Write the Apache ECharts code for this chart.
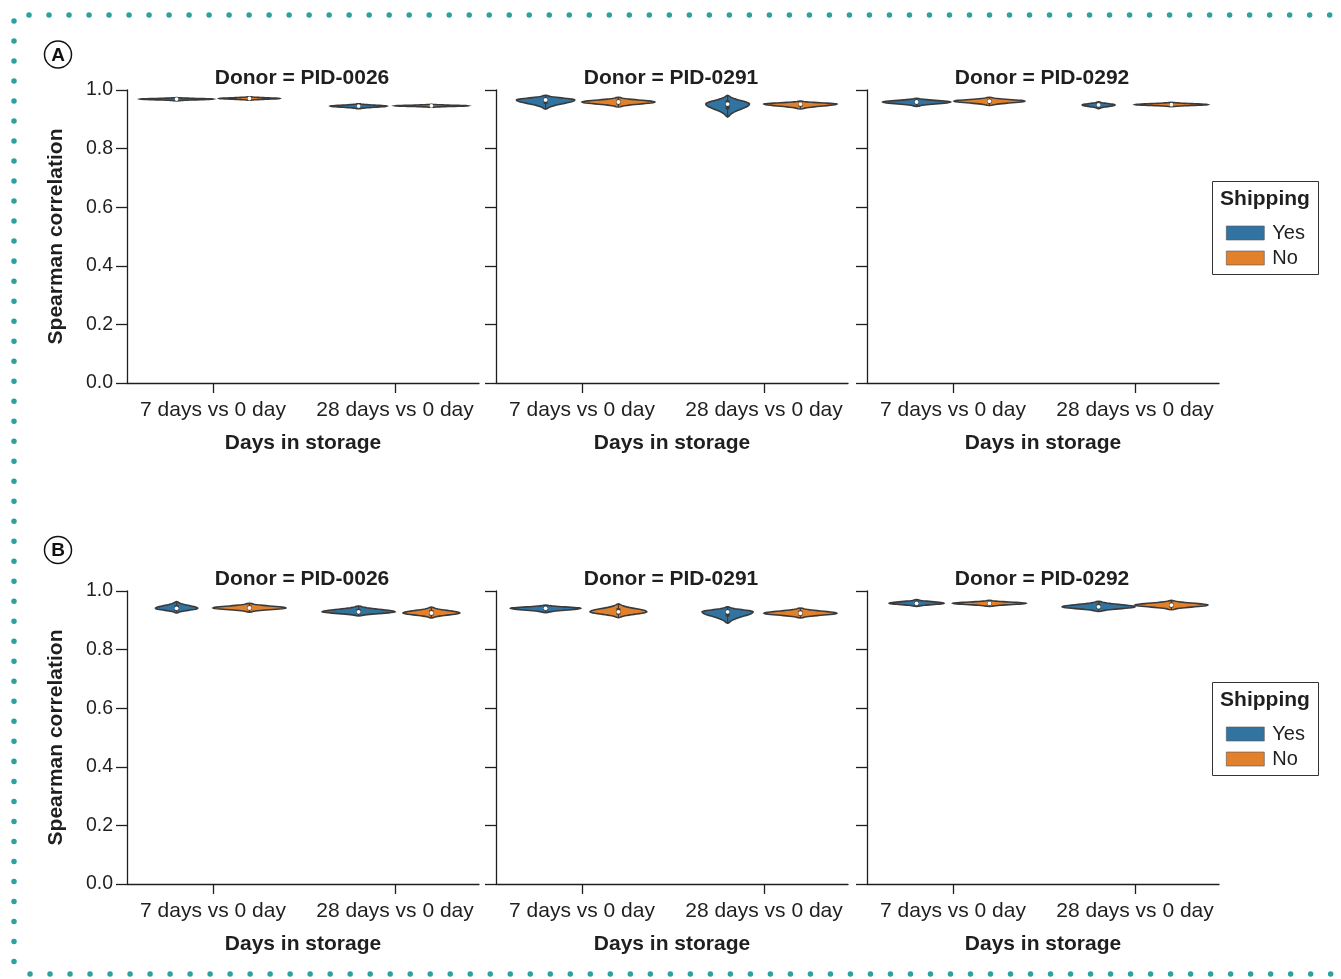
<!DOCTYPE html>
<html>
<head>
<meta charset="utf-8">
<script src="https://cdn.jsdelivr.net/npm/echarts@6/dist/echarts.min.js"></script>
<style>
  html, body { margin: 0; padding: 0; background: #fff; }
  #chart { width: 1341px; height: 979px; }
</style>
</head>
<body>
<div id="chart"></div>
<script>
// ---------------- DATA ----------------
const categories = ['7 days vs 0 day', '28 days vs 0 day'];
const donors = ['PID-0026', 'PID-0291', 'PID-0292'];
const hues = ['Yes', 'No'];
const yTicks = [0, 0.2, 0.4, 0.6, 0.8, 1.0];
const panelLetters = ['A', 'B'];

// Per donor, violins in order: [7d Yes, 7d No, 28d Yes, 28d No]
const A_median = [[0.969, 0.971, 0.945, 0.946], [0.966, 0.959, 0.952, 0.952], [0.959, 0.962, 0.949, 0.950]];
const A_low    = [[0.963, 0.965, 0.936, 0.941], [0.935, 0.942, 0.908, 0.935], [0.944, 0.947, 0.936, 0.943]];
const A_high   = [[0.974, 0.977, 0.953, 0.951], [0.982, 0.975, 0.982, 0.962], [0.972, 0.975, 0.960, 0.958]];
const A_width  = [[1.00, 0.82, 0.78, 1.00], [0.80, 1.00, 0.60, 1.00], [0.93, 0.97, 0.45, 1.00]];

const B_median = [[0.941, 0.942, 0.929, 0.925], [0.941, 0.929, 0.929, 0.924], [0.958, 0.958, 0.946, 0.952]];
const B_low    = [[0.925, 0.928, 0.915, 0.908], [0.926, 0.909, 0.890, 0.908], [0.947, 0.947, 0.930, 0.936]];
const B_high   = [[0.964, 0.958, 0.949, 0.945], [0.952, 0.956, 0.946, 0.942], [0.971, 0.968, 0.965, 0.968]];
const B_width  = [[0.58, 1.00, 1.00, 0.78], [0.96, 0.78, 0.70, 1.00], [0.75, 1.00, 1.00, 1.00]];

const rows = [
  { median: A_median, low: A_low, high: A_high, width: A_width },
  { median: B_median, low: B_low, high: B_high, width: B_width }
];

// ---------------- STYLE / LAYOUT ----------------
const FONT = '"Liberation Sans", Arial, Helvetica, sans-serif';
const TEXT = '#1f1f1f';
const hueColors = { Yes: '#3274a1', No: '#e1812c' };
const EDGE = '#3a3a3a';
const gridLefts = [127, 496, 867];
const gridTops = [90, 591];
const GW = 352, GH = 293;
const X_MIN = -86 / 182, X_MAX = 266 / 182;
const DODGE = 0.2, HALF = 0.2;

function renderViolin(params, api) {
  const xc = api.value(0), med = api.value(1), lo = api.value(2), hi = api.value(3);
  const w = api.value(4) * HALF;
  const color = api.visual('color');
  const sigLo = (med - lo) / 2.5, sigHi = (hi - med) / 2.5;
  const steps = 16;
  const vals = [];
  for (let i = 0; i <= steps; i++) vals.push(lo + (med - lo) * i / steps);
  for (let i = 1; i <= steps; i++) vals.push(med + (hi - med) * i / steps);
  const right = [], left = [];
  vals.forEach((v, i) => {
    const s = v < med ? sigLo : sigHi;
    const z = s > 0 ? (v - med) / s : 0;
    let hw = w * Math.exp(-0.5 * z * z);
    if (i === 0 || i === vals.length - 1) hw = 0;
    right.push(api.coord([xc + hw, v]));
    left.unshift(api.coord([xc - hw, v]));
  });
  const pts = right.concat(left);
  const q1 = med - (med - lo) * 0.35, q3 = med + (hi - med) * 0.35;
  const pLo = api.coord([xc, lo]), pHi = api.coord([xc, hi]);
  const p1 = api.coord([xc, q1]), p3 = api.coord([xc, q3]);
  const pm = api.coord([xc, med]);
  return {
    type: 'group',
    children: [
      { type: 'polygon', shape: { points: pts }, style: { fill: color, stroke: EDGE, lineWidth: 1.6 } },
      { type: 'line', shape: { x1: pLo[0], y1: pLo[1], x2: pHi[0], y2: pHi[1] }, style: { stroke: EDGE, lineWidth: 1.2 } },
      { type: 'line', shape: { x1: p1[0], y1: p1[1] + 0.8, x2: p3[0], y2: p3[1] - 0.8 }, style: { stroke: EDGE, lineWidth: 4 } },
      { type: 'circle', shape: { cx: pm[0], cy: pm[1], r: 1.9 }, style: { fill: '#fff', stroke: null } }
    ]
  };
}

const grid = [], xAxis = [], yAxis = [], series = [], legend = [], graphic = [];

rows.forEach((row, r) => {
  donors.forEach((donor, d) => {
    const idx = r * 3 + d;
    grid.push({ left: gridLefts[d], top: gridTops[r], width: GW, height: GH });
    xAxis.push({
      type: 'value', gridIndex: idx, min: X_MIN, max: X_MAX,
      name: 'Days in storage', nameLocation: 'middle', nameGap: 50,
      nameTextStyle: { fontSize: 21, fontWeight: 'bold', color: TEXT, fontFamily: FONT },
      splitLine: { show: false },
      axisLine: { show: true, onZero: false, lineStyle: { color: TEXT, width: 1.3 } },
      axisTick: { show: true, customValues: [0, 1], length: 10, lineStyle: { color: TEXT, width: 1.3 } },
      axisLabel: { customValues: [0, 1], formatter: (v) => categories[Math.round(v)], fontSize: 21, margin: 17, color: TEXT, fontFamily: FONT }
    });
    yAxis.push({
      type: 'value', gridIndex: idx, min: yTicks[0], max: yTicks[yTicks.length - 1], interval: 0.2,
      name: d === 0 ? 'Spearman correlation' : '', nameLocation: 'middle', nameGap: 60,
      nameTextStyle: { fontSize: 21, fontWeight: 'bold', color: TEXT, fontFamily: FONT },
      splitLine: { show: false },
      axisLine: { show: true, onZero: false, lineStyle: { color: TEXT, width: 1.3 } },
      axisTick: { show: true, length: 11, lineStyle: { color: TEXT, width: 1.3 } },
      axisLabel: { show: d === 0, formatter: (v) => v.toFixed(1), fontSize: 19.5, margin: 14, color: TEXT, fontFamily: FONT }
    });
    hues.forEach((hue, h) => {
      const data = categories.map((c, ci) => {
        const k = ci * 2 + h;
        return [ci + (h === 0 ? -DODGE : DODGE), row.median[d][k], row.low[d][k], row.high[d][k], row.width[d][k]];
      });
      series.push({
        type: 'custom', name: hue, xAxisIndex: idx, yAxisIndex: idx,
        itemStyle: { color: hueColors[hue] },
        encode: { x: 0, y: 1 },
        renderItem: renderViolin,
        data: data,
        silent: true
      });
    });
    graphic.push({
      type: 'text', x: gridLefts[d] + GW / 2 - 1, y: gridTops[r] - 12,
      style: { text: 'Donor = ' + donor, font: 'bold 21px ' + FONT, fill: TEXT, textAlign: 'center', textVerticalAlign: 'middle' }
    });
  });

  const ly = gridTops[r] + 91;
  graphic.push({ type: 'rect', shape: { x: 1212.5, y: ly + 0.5, width: 106, height: 93 }, style: { fill: '#fff', stroke: '#333', lineWidth: 1 }, z: 0 });
  graphic.push({ type: 'text', x: 1265, y: ly + 18, style: { text: 'Shipping', font: 'bold 21px ' + FONT, fill: TEXT, textAlign: 'center', textVerticalAlign: 'middle' }, z: 10 });
  legend.push({
    data: hues.map(h => ({ name: h })),
    orient: 'vertical', left: 1226, top: ly + 42, padding: 0, itemGap: 5,
    itemWidth: 38, itemHeight: 14, icon: 'rect', selectedMode: false,
    itemStyle: { borderWidth: 0.6, borderColor: '#555' },
    textStyle: { fontSize: 20, color: TEXT, fontFamily: FONT, lineHeight: 20, padding: [0, 0, 0, 3] },
    z: 20
  });

  const cy = r === 0 ? 54.5 : 550;
  graphic.push({ type: 'circle', shape: { cx: 58, cy: cy, r: 13.5 }, style: { fill: 'none', stroke: '#111', lineWidth: 1.5 } });
  graphic.push({ type: 'text', x: 58, y: cy + 1, style: { text: panelLetters[r], font: 'bold 19px ' + FONT, fill: '#111', textAlign: 'center', textVerticalAlign: 'middle' } });
});

const dot = { stroke: '#2ba1a0', lineWidth: 5.5, lineDash: [0.01, 20], lineCap: 'round' };
graphic.push({ type: 'line', shape: { x1: 29, y1: 15, x2: 1338, y2: 15 }, style: dot, silent: true });
graphic.push({ type: 'line', shape: { x1: 14, y1: 21, x2: 14, y2: 980 }, style: dot, silent: true });
graphic.push({ type: 'line', shape: { x1: 30, y1: 974, x2: 1338, y2: 974 }, style: dot, silent: true });

const chart = echarts.init(document.getElementById('chart'), null, { renderer: 'canvas' });
chart.setOption({
  animation: false,
  backgroundColor: '#fff',
  textStyle: { fontFamily: FONT },
  grid, xAxis, yAxis, series, legend, graphic
});
</script>
</body>
</html>
